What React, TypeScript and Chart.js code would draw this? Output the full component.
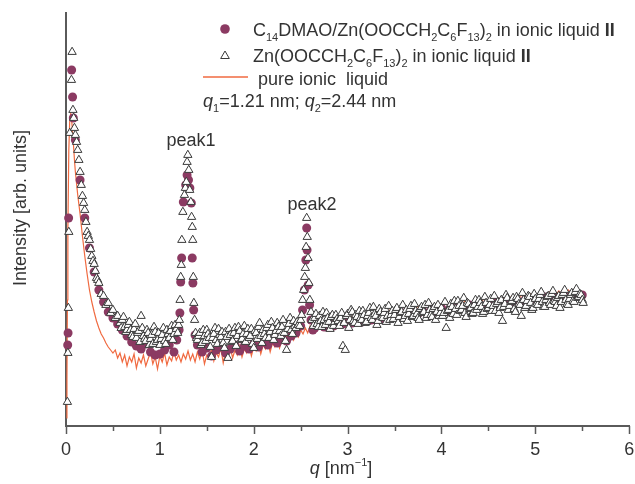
import { useEffect, useRef } from "react";
import { Chart, registerables } from "chart.js";

Chart.register(...registerables);

// ---------- data (q in nm^-1, intensity in arbitrary units) ----------
// Zn(OOCCH2C6F13)2 in ionic liquid II (triangles)
const triQ = [
  0.015, 0.02, 0.025, 0.03, 0.04, 0.058, 0.065, 0.074, 0.082, 0.09,
  0.1, 0.1125, 0.125, 0.1375, 0.15, 0.1625, 0.175, 0.1875, 0.2, 0.2125,
  0.225, 0.2375, 0.25, 0.2625, 0.275, 0.2875, 0.3, 0.3125, 0.325, 0.3375, 0.35,
  0.375, 0.4, 0.425, 0.45, 0.475, 0.5, 0.525, 0.55, 0.575, 0.6,
  0.625, 0.65, 0.675, 0.7, 0.725, 0.75, 0.775, 0.8, 0.825, 0.85,
  0.875, 0.9, 0.925, 0.95, 0.975, 1.0, 1.025, 1.05, 1.075, 1.1,
  1.125, 1.15, 1.175,
  1.19, 1.2, 1.208, 1.215, 1.222, 1.228, 1.234, 1.245, 1.262, 1.272,
  1.282, 1.29, 1.298, 1.308, 1.318, 1.33, 1.338, 1.345, 1.35, 1.356,
  1.362, 1.37, 1.38, 1.39,
  1.4, 1.425, 1.45, 1.475, 1.5, 1.525, 1.55, 1.575, 1.6, 1.625,
  1.65, 1.675, 1.7, 1.725, 1.75, 1.775, 1.8, 1.825, 1.85, 1.875,
  1.9, 1.925, 1.95, 1.975, 2.0, 2.025, 2.05, 2.075, 2.1, 2.125,
  2.15, 2.175, 2.2, 2.225, 2.25, 2.275, 2.3, 2.325, 2.35, 2.375,
  2.4, 2.425, 2.45, 2.475,
  2.49, 2.5, 2.511, 2.521, 2.532, 2.543, 2.55, 2.558, 2.564, 2.57,
  2.578, 2.588, 2.598, 2.61, 2.62, 2.635,
  2.65, 2.675, 2.7, 2.725, 2.75, 2.775, 2.8, 2.825, 2.85, 2.875,
  2.9, 2.925, 2.95, 2.975, 3.0, 3.025, 3.05, 3.075, 3.1, 3.125,
  3.15, 3.175, 3.2, 3.225, 3.25, 3.275, 3.3, 3.325, 3.35, 3.375,
  3.4, 3.425, 3.45, 3.475, 3.5, 3.525, 3.55, 3.575, 3.6, 3.625,
  3.65, 3.675, 3.7, 3.725, 3.75, 3.775, 3.8, 3.825, 3.85, 3.875,
  3.9, 3.925, 3.95, 3.975, 4.0, 4.025, 4.05, 4.075, 4.1, 4.125,
  4.15, 4.175, 4.2, 4.225, 4.25, 4.275, 4.3, 4.325, 4.35, 4.375,
  4.4, 4.425, 4.45, 4.475, 4.5, 4.525, 4.55, 4.575, 4.6, 4.625,
  4.65, 4.675, 4.7, 4.725, 4.75, 4.775, 4.8, 4.825, 4.85, 4.875,
  4.9, 4.925, 4.95, 4.975, 5.0, 5.025, 5.05, 5.075, 5.1, 5.125,
  5.15, 5.175, 5.2, 5.225, 5.25, 5.275, 5.3, 5.325, 5.35, 5.375,
  5.4, 5.425, 5.45, 5.475, 5.5, 5.51,
];
const triI = [
  24, 73, 118, 194, 293, 346, 374, 316, 308, 298,
  291, 284, 276, 266, 254, 241, 230, 223, 216, 204,
  194, 190, 186, 177, 170, 165, 162, 155, 148, 146, 143,
  132, 130, 121, 123, 113, 116, 108, 110, 103, 106,
  99, 96, 104, 91, 97, 88, 95, 110, 90, 85,
  93, 87, 82, 94, 86, 81, 91, 85, 96, 88,
  100, 92, 97,
  93, 101, 106, 126, 149, 161, 186, 214, 231, 238,
  244, 264, 271, 256, 236, 224, 209, 199, 186, 149,
  123, 106, 93, 88,
  86, 93, 83, 90, 96, 88, 69, 92, 86, 97,
  89, 83, 94, 68, 91, 85, 98, 90, 95, 87,
  100, 92, 88, 97, 78, 93, 99, 90, 96, 88,
  101, 94, 98, 91, 103, 95, 99, 93, 76, 102,
  96, 105, 98, 101,
  100, 106, 111, 126, 136, 149, 158, 179, 208, 189,
  168, 143, 126, 114, 106, 100,
  108, 102, 110, 99, 106, 113, 104, 109, 100, 111,
  105, 108, 80, 76, 112, 106, 114, 103, 109, 115,
  106, 111, 104, 113, 108, 119, 110, 105, 114, 108,
  117, 110, 106, 115, 111, 118, 109, 114, 107, 116,
  112, 120, 110, 115, 108, 117, 113, 121, 111, 116,
  109, 119, 114, 110, 118, 113, 98, 116, 122, 112,
  117, 125, 115, 120, 113, 123, 117, 112, 121, 116,
  126, 119, 114, 123, 118, 127, 120, 115, 124, 118,
  105, 122, 128, 120, 125, 117, 129, 122, 110, 126,
  120, 130, 123, 118, 127, 121, 131, 124, 119, 129,
  123, 132, 125, 120, 130, 124, 133, 126, 121, 131,
  125, 134, 128, 132, 126, 123,
];
// additional (interleaved) readings of the same triangle series in the flat regions
const triQb = [
  0.5875, 0.6125, 0.6375, 0.6625, 0.6875, 0.7125, 0.7375, 0.7625, 0.7875, 0.8125,
  0.8375, 0.8625, 0.8875, 0.9125, 0.9375, 0.9625, 0.9875, 1.0125, 1.0375, 1.0625,
  1.0875, 1.1125, 1.1375, 1.1625,
  1.4125, 1.4375, 1.4625, 1.4875, 1.5125, 1.5375, 1.5625, 1.5875, 1.6125, 1.6375,
  1.6625, 1.6875, 1.7125, 1.7375, 1.7625, 1.7875, 1.8125, 1.8375, 1.8625, 1.8875,
  1.9125, 1.9375, 1.9625, 1.9875, 2.0125, 2.0375, 2.0625, 2.0875, 2.1125, 2.1375,
  2.1625, 2.1875, 2.2125, 2.2375, 2.2625, 2.2875, 2.3125, 2.3375, 2.3625, 2.3875,
  2.4125, 2.4375, 2.4625,
  2.6625, 2.6875, 2.7125, 2.7375, 2.7625, 2.7875, 2.8125, 2.8375, 2.8625, 2.8875,
  2.9125, 2.9375, 2.9625, 2.9875, 3.0125, 3.0375, 3.0625, 3.0875, 3.1125, 3.1375,
  3.1625, 3.1875, 3.2125, 3.2375, 3.2625, 3.2875, 3.3125, 3.3375, 3.3625, 3.3875,
  3.4125, 3.4375, 3.4625, 3.4875, 3.5125, 3.5375, 3.5625, 3.5875, 3.6125, 3.6375,
  3.6625, 3.6875, 3.7125, 3.7375, 3.7625, 3.7875, 3.8125, 3.8375, 3.8625, 3.8875,
  3.9125, 3.9375, 3.9625, 3.9875, 4.0125, 4.0375, 4.0625, 4.0875, 4.1125, 4.1375,
  4.1625, 4.1875, 4.2125, 4.2375, 4.2625, 4.2875, 4.3125, 4.3375, 4.3625, 4.3875,
  4.4125, 4.4375, 4.4625, 4.4875, 4.5125, 4.5375, 4.5625, 4.5875, 4.6125, 4.6375,
  4.6625, 4.6875, 4.7125, 4.7375, 4.7625, 4.7875, 4.8125, 4.8375, 4.8625, 4.8875,
  4.9125, 4.9375, 4.9625, 4.9875, 5.0125, 5.0375, 5.0625, 5.0875, 5.1125, 5.1375,
  5.1625, 5.1875, 5.2125, 5.2375, 5.2625, 5.2875, 5.3125, 5.3375, 5.3625, 5.3875,
  5.4125, 5.4375, 5.4625, 5.4875,
];
const triIb = [
  98, 109, 94, 101, 96, 89, 102, 93, 84, 98,
  87, 96, 81, 91, 99, 84, 93, 87, 98, 82,
  92, 95, 86, 101,
  90, 81, 96, 85, 92, 79, 88, 98, 82, 91,
  94, 78, 89, 97, 84, 93, 80, 99, 86, 92,
  84, 97, 90, 82, 95, 87, 103, 83, 92, 98,
  88, 104, 86, 95, 99, 90, 106, 85, 97, 108,
  92, 100, 104,
  112, 99, 105, 114, 101, 108, 97, 111, 104, 107,
  100, 113, 103, 110, 98, 116, 105, 111, 102, 108,
  115, 103, 110, 118, 106, 112, 101, 117, 109, 113,
  104, 120, 111, 107, 116, 103, 113, 121, 110, 105,
  117, 109, 122, 112, 106, 119, 114, 108, 123, 111,
  117, 106, 121, 113, 110, 124, 115, 108, 119, 125,
  111, 120, 116, 128, 109, 122, 118, 113, 126, 119,
  123, 112, 129, 117, 121, 115, 130, 122, 113, 126,
  119, 131, 116, 124, 128, 114, 127, 121, 133, 118,
  125, 129, 116, 132, 122, 127, 134, 119, 126, 130,
  121, 135, 124, 128, 118, 131, 136, 122, 127, 133,
  124, 137, 129, 131,
];

// C14DMAO/Zn(OOCCH2C6F13)2 in ionic liquid II (circles)
const cirQ = [
  0.018, 0.022, 0.028, 0.06, 0.07, 0.078, 0.1, 0.15, 0.2, 0.25,
  0.3, 0.35, 0.4, 0.45, 0.5, 0.55, 0.6, 0.65, 0.7, 0.75,
  0.8, 0.85, 0.9, 0.95, 1.0, 1.05, 1.1, 1.15, 1.18,
  1.205, 1.213, 1.222, 1.232, 1.25, 1.275, 1.29, 1.305, 1.32, 1.335,
  1.345, 1.352, 1.36, 1.375,
  1.4, 1.45, 1.5, 1.55, 1.6, 1.65, 1.7, 1.75, 1.8, 1.85,
  1.9, 1.95, 2.0, 2.05, 2.1, 2.15, 2.2, 2.25, 2.3, 2.35,
  2.4, 2.45,
  2.5, 2.52, 2.54, 2.555, 2.564, 2.568, 2.58, 2.595, 2.61, 2.63,
  2.65, 2.7, 2.75, 2.8, 2.85, 2.9, 2.95, 3.0, 3.05, 3.1,
  3.15, 3.2, 3.25, 3.3, 3.35, 3.4, 3.45, 3.5, 3.55, 3.6,
  3.65, 3.7, 3.75, 3.8, 3.85, 3.9, 3.95, 4.0, 4.05, 4.1,
  4.15, 4.2, 4.25, 4.3, 4.35, 4.4, 4.45, 4.5, 4.55, 4.6,
  4.65, 4.7, 4.75, 4.8, 4.85, 4.9, 4.95, 5.0, 5.05, 5.1,
  5.15, 5.2, 5.25, 5.3, 5.35, 5.4, 5.45, 5.5,
];
const cirI = [
  81, 93, 208, 356, 329, 308, 286, 246, 208, 178,
  154, 136, 124, 114, 108, 102, 96, 90, 84, 80,
  77, 82, 74, 71, 72, 76, 81, 74, 86,
  96, 113, 144, 168, 224, 241, 251, 246, 238, 223,
  168, 143, 116, 91,
  81, 74, 78, 70, 76, 79, 73, 77, 81, 75,
  80, 77, 82, 79, 84, 81, 86, 83, 88, 85,
  90, 93,
  100, 116, 136, 166, 198, 176, 141, 121, 106, 96,
  98, 101, 99, 103, 100, 104, 102, 105, 103, 107,
  104, 108, 106, 109, 107, 111, 108, 112, 110, 113,
  111, 114, 112, 115, 113, 117, 114, 118, 115, 119,
  117, 120, 118, 121, 119, 122, 120, 123, 121, 124,
  122, 125, 123, 126, 124, 127, 125, 128, 126, 129,
  127, 130, 128, 131, 129, 132, 130, 131,
];

// pure ionic liquid (line)
const ilQ = [
  0.005, 0.01, 0.015, 0.02, 0.03, 0.04, 0.05, 0.06, 0.075, 0.09,
  0.1, 0.125, 0.15, 0.175, 0.2, 0.225, 0.25, 0.275, 0.3, 0.325,
  0.35, 0.375, 0.4, 0.425, 0.45, 0.475, 0.5, 0.525, 0.55, 0.575,
  0.6, 0.625, 0.65, 0.675, 0.7, 0.725, 0.75, 0.775, 0.8, 0.825,
  0.85, 0.875, 0.9, 0.925, 0.95, 0.975, 1.0, 1.025, 1.05, 1.075,
  1.1, 1.125, 1.15, 1.175, 1.2, 1.225, 1.25, 1.275, 1.3, 1.325,
  1.35, 1.375, 1.4, 1.425, 1.45, 1.475, 1.5, 1.525, 1.55, 1.575,
  1.6, 1.625, 1.65, 1.675, 1.7, 1.725, 1.75, 1.775, 1.8, 1.825,
  1.85, 1.875, 1.9, 1.925, 1.95, 1.975, 2.0, 2.025, 2.05, 2.075,
  2.1, 2.125, 2.15, 2.175, 2.2, 2.225, 2.25, 2.275, 2.3, 2.325,
  2.35, 2.375, 2.4, 2.425, 2.45, 2.475, 2.5, 2.525, 2.55, 2.575,
  2.6, 2.625, 2.65,
  2.7, 2.75, 2.8, 2.85, 2.9, 2.95, 3.0, 3.05, 3.1, 3.15,
  3.2, 3.25, 3.3, 3.35, 3.4, 3.45, 3.5, 3.55, 3.6, 3.65,
  3.7, 3.75, 3.8, 3.85, 3.9, 3.95, 4.0, 4.05, 4.1, 4.15,
  4.2, 4.25, 4.3, 4.35, 4.4, 4.45, 4.5, 4.55, 4.6, 4.65,
  4.7, 4.75, 4.8, 4.85, 4.9, 4.95, 5.0, 5.05, 5.1, 5.15,
  5.2, 5.25, 5.3, 5.35, 5.4, 5.45, 5.5,
];
const ilI = [
  8, 46, 126, 196, 276, 306, 312, 306, 288, 266,
  254, 231, 212, 190, 170, 152, 136, 124, 114, 105,
  98, 92, 88, 83, 79, 76, 73, 76, 68, 73,
  64, 71, 60, 69, 64, 72, 58, 68, 63, 71,
  60, 67, 74, 62, 69, 57, 70, 64, 73, 61,
  69, 65, 74, 66, 71, 64, 72, 67, 75, 66,
  72, 64, 74, 67, 76, 62, 71, 68, 77, 65,
  73, 69, 78, 63, 74, 70, 79, 68, 76, 71,
  80, 69, 77, 73, 81, 70, 79, 75, 83, 72,
  81, 77, 85, 74, 83, 79, 87, 78, 86, 82,
  90, 83, 91, 86, 94, 89, 96, 92, 98, 93,
  100, 95, 102,
  98, 104, 100, 106, 102, 108, 104, 110, 106, 112,
  107, 113, 109, 115, 110, 116, 112, 118, 113, 119,
  114, 120, 115, 121, 116, 122, 117, 123, 118, 124,
  119, 125, 120, 126, 121, 127, 122, 128, 123, 129,
  124, 130, 125, 131, 126, 132, 127, 133, 128, 134,
  129, 135, 130, 136, 131, 134, 130,
];

const xTickLabels = ["0", "1", "2", "3", "4", "5", "6"];

// ---------- styling ----------
const FONT = "'Liberation Sans', Arial, Helvetica, sans-serif";
const TEXT = "#333333";
const AXIS = "#5a5a5a";
const PURPLE = "#8b3a62";
const ORANGE = "#f06a40";
const TRI_EDGE = "#3a3a3a";

type Part = { t: string; sub?: boolean; sup?: boolean; bold?: boolean; italic?: boolean };

function fontFor(p: Part, size: number) {
  const s = p.sub || p.sup ? Math.round(size * 0.62) : size;
  return `${p.italic ? "italic " : ""}${p.bold ? "bold " : ""}${s}px ${FONT}`;
}
function richWidth(ctx: CanvasRenderingContext2D, parts: Part[], size: number) {
  let w = 0;
  for (const p of parts) {
    ctx.font = fontFor(p, size);
    w += ctx.measureText(p.t).width;
  }
  return w;
}
function drawRich(
  ctx: CanvasRenderingContext2D,
  x: number,
  y: number,
  parts: Part[],
  size: number,
  align: "left" | "center" = "left"
) {
  let cx = align === "center" ? x - richWidth(ctx, parts, size) / 2 : x;
  ctx.textAlign = "left";
  ctx.textBaseline = "alphabetic";
  for (const p of parts) {
    ctx.font = fontFor(p, size);
    const dy = p.sub ? size * 0.3 : p.sup ? -size * 0.42 : 0;
    ctx.fillText(p.t, cx, y + dy);
    cx += ctx.measureText(p.t).width;
  }
}

const legend1: Part[] = [
  { t: "C" }, { t: "14", sub: true }, { t: "DMAO/Zn(OOCCH" }, { t: "2", sub: true },
  { t: "C" }, { t: "6", sub: true }, { t: "F" }, { t: "13", sub: true }, { t: ")" },
  { t: "2", sub: true }, { t: " in ionic liquid " }, { t: "II", bold: true },
];
const legend2: Part[] = [
  { t: "Zn(OOCCH" }, { t: "2", sub: true }, { t: "C" }, { t: "6", sub: true }, { t: "F" },
  { t: "13", sub: true }, { t: ")" }, { t: "2", sub: true }, { t: " in ionic liquid " },
  { t: "II", bold: true },
];
const legend3: Part[] = [{ t: "pure ionic  liquid" }];
const legend4: Part[] = [
  { t: "q", italic: true }, { t: "1", sub: true }, { t: "=1.21 nm; " },
  { t: "q", italic: true }, { t: "2", sub: true }, { t: "=2.44 nm" },
];
const xTitle: Part[] = [{ t: "q", italic: true }, { t: " [nm" }, { t: "\u22121", sup: true }, { t: "]" }];

function triangle(ctx: CanvasRenderingContext2D, x: number, y: number, r: number) {
  ctx.beginPath();
  for (let k = 0; k < 3; k++) {
    const a = (k * 2 * Math.PI) / 3;
    const px = x + Math.sin(a) * r;
    const py = y - Math.cos(a) * r;
    if (k === 0) ctx.moveTo(px, py);
    else ctx.lineTo(px, py);
  }
  ctx.closePath();
}

const overlay = {
  id: "overlay",
  afterDraw(chart: Chart) {
    const ctx = chart.ctx;
    const xs = chart.scales.x;
    const area = chart.chartArea;
    ctx.save();
    // x ticks (major at integers, minor at halves)
    ctx.strokeStyle = AXIS;
    ctx.lineWidth = 1.5;
    for (const t of xs.ticks) {
      const px = Math.round(xs.getPixelForValue(t.value)) + 0.5;
      const len = Number.isInteger(t.value) ? 8 : 5;
      ctx.beginPath();
      ctx.moveTo(px, area.bottom);
      ctx.lineTo(px, area.bottom + len);
      ctx.stroke();
    }
    // legend
    ctx.fillStyle = PURPLE;
    ctx.beginPath();
    ctx.arc(225, 29, 4.8, 0, Math.PI * 2);
    ctx.fill();
    triangle(ctx, 225, 56, 5);
    ctx.fillStyle = "#ffffff";
    ctx.fill();
    ctx.strokeStyle = TRI_EDGE;
    ctx.lineWidth = 1;
    ctx.stroke();
    ctx.strokeStyle = ORANGE;
    ctx.lineWidth = 1.5;
    ctx.beginPath();
    ctx.moveTo(203, 77);
    ctx.lineTo(248, 77);
    ctx.stroke();
    ctx.fillStyle = TEXT;
    drawRich(ctx, 253, 36, legend1, 18);
    drawRich(ctx, 253, 62, legend2, 18);
    drawRich(ctx, 258, 85, legend3, 18);
    drawRich(ctx, 203, 107, legend4, 18);
    // peak labels
    drawRich(ctx, 191, 146, [{ t: "peak1" }], 18, "center");
    drawRich(ctx, 312, 210, [{ t: "peak2" }], 18, "center");
    // axis titles
    drawRich(ctx, 341, 474, xTitle, 18, "center");
    ctx.save();
    ctx.translate(26, 208);
    ctx.rotate(-Math.PI / 2);
    drawRich(ctx, 0, 0, [{ t: "Intensity [arb. units]" }], 18, "center");
    ctx.restore();
    ctx.restore();
  },
};

export default function App() {
  const ref = useRef<HTMLCanvasElement | null>(null);

  useEffect(() => {
    document.body.style.margin = "0";
    const canvas = ref.current;
    if (!canvas) return;
    const triData = [
      ...triQ.map((x, i) => ({ x, y: triI[i] })),
      ...triQb.map((x, i) => ({ x, y: triIb[i] })),
    ].sort((a, b) => a.x - b.x);
    const chart = new Chart(canvas, {
      type: "scatter",
      data: {
        datasets: [
          {
            label: "pure ionic liquid",
            data: ilQ.map((x, i) => ({ x, y: ilI[i] })),
            showLine: true,
            borderColor: ORANGE,
            borderWidth: 1.2,
            pointRadius: 0,
            fill: false,
            tension: 0,
            order: 3,
            clip: false,
          },
          {
            label: "C14DMAO/Zn(OOCCH2C6F13)2 in ionic liquid II",
            data: cirQ.map((x, i) => ({ x, y: cirI[i] })),
            pointStyle: "circle",
            pointRadius: 4.5,
            backgroundColor: PURPLE,
            borderWidth: 0,
            order: 2,
            clip: false,
          },
          {
            label: "Zn(OOCCH2C6F13)2 in ionic liquid II",
            data: triData,
            pointStyle: "triangle",
            pointRadius: 4.8,
            backgroundColor: "#ffffff",
            borderColor: TRI_EDGE,
            borderWidth: 1,
            order: 1,
            clip: false,
          },
        ] as any,
      },
      options: {
        responsive: false,
        devicePixelRatio: 1,
        animation: false,
        events: [],
        layout: { padding: { top: 13, right: 5, left: 0, bottom: 0 } },
        plugins: { legend: { display: false }, tooltip: { enabled: false } },
        scales: {
          x: {
            type: "linear",
            min: 0,
            max: 6,
            afterFit: (s: any) => {
              s.height = 58;
            },
            ticks: {
              stepSize: 0.5,
              autoSkip: false,
              maxRotation: 0,
              padding: 0,
              color: TEXT,
              font: { family: FONT, size: 18 },
              callback: (v: any) => (Number.isInteger(v) ? xTickLabels[v] : ""),
            },
            grid: {
              display: true,
              drawOnChartArea: false,
              drawTicks: true,
              tickLength: 13,
              tickColor: "rgba(0,0,0,0)",
              color: "rgba(0,0,0,0)",
            },
            border: { display: true, color: AXIS, width: 2 },
          },
          y: {
            type: "linear",
            min: 0,
            max: 413,
            afterFit: (s: any) => {
              s.width = 66;
            },
            ticks: { display: false },
            grid: { display: false },
            border: { display: true, color: AXIS, width: 2 },
          },
        },
      },
      plugins: [overlay],
    });
    return () => chart.destroy();
  }, []);

  return (
    <div style={{ width: 635, height: 484 }}>
      <canvas ref={ref} width={635} height={484} style={{ display: "block" }} />
    </div>
  );
}
